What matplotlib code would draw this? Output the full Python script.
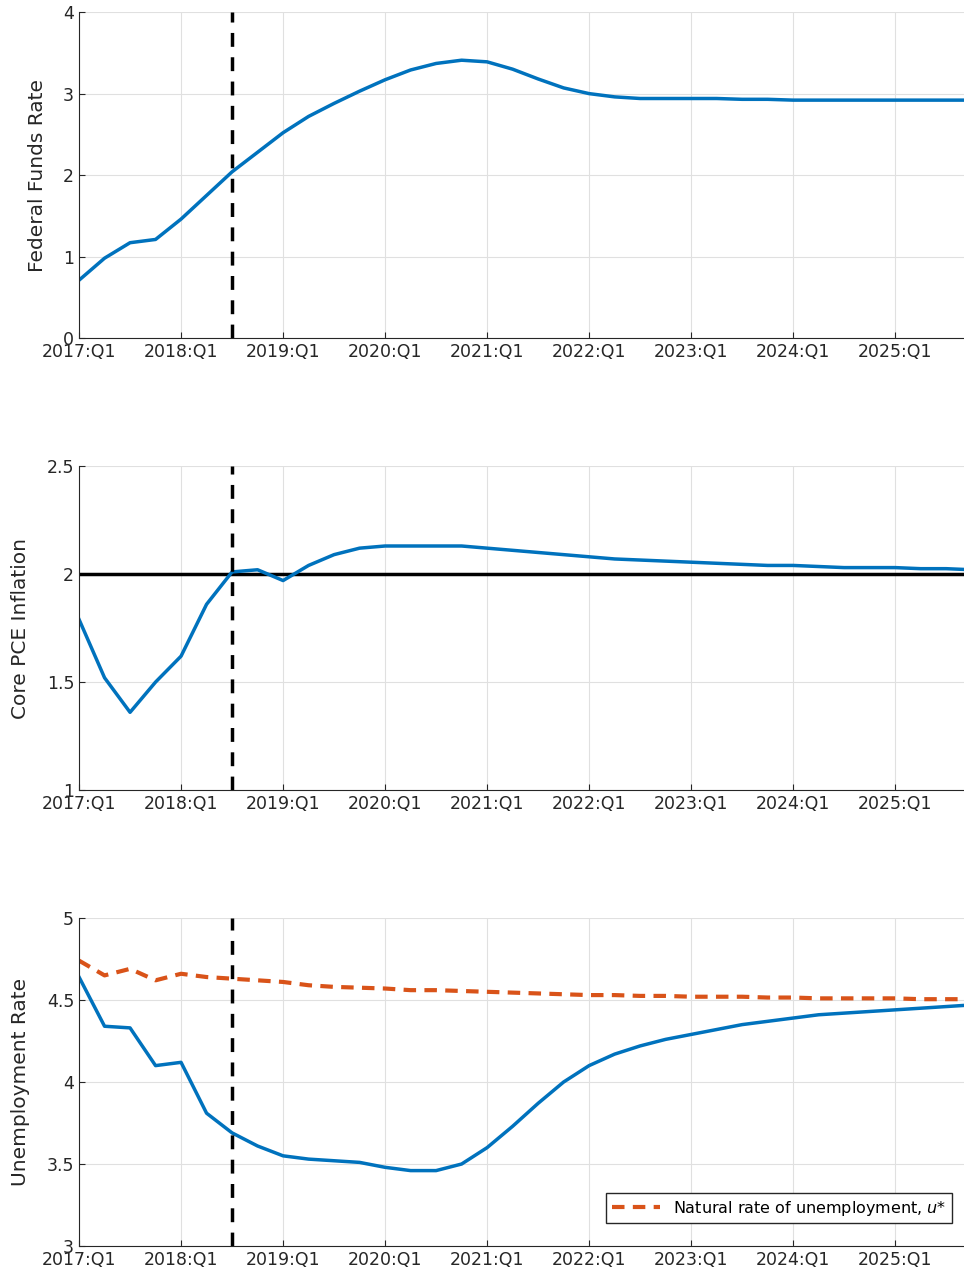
import numpy as np
import matplotlib.pyplot as plt

ffr = [0.71, 0.98, 1.17, 1.21, 1.46, 1.75, 2.04, 2.28, 2.52, 2.72, 2.88, 3.03, 3.17, 3.29,
       3.37, 3.41, 3.39, 3.30, 3.18, 3.07, 3.00, 2.96, 2.94, 2.94, 2.94, 2.94, 2.93, 2.93,
       2.92, 2.92, 2.92, 2.92, 2.92, 2.92, 2.92, 2.92]
infl = [1.79, 1.52, 1.36, 1.50, 1.62, 1.86, 2.01, 2.02, 1.97, 2.04, 2.09, 2.12, 2.13, 2.13,
        2.13, 2.13, 2.12, 2.11, 2.10, 2.09, 2.08, 2.07, 2.065, 2.06, 2.055, 2.05, 2.045, 2.04,
        2.04, 2.035, 2.03, 2.03, 2.03, 2.025, 2.025, 2.02]
unemp = [4.64, 4.34, 4.33, 4.10, 4.12, 3.81, 3.69, 3.61, 3.55, 3.53, 3.52, 3.51, 3.48, 3.46,
         3.46, 3.50, 3.60, 3.73, 3.87, 4.00, 4.10, 4.17, 4.22, 4.26, 4.29, 4.32, 4.35, 4.37,
         4.39, 4.41, 4.42, 4.43, 4.44, 4.45, 4.46, 4.47]
ustar = [4.74, 4.65, 4.69, 4.62, 4.66, 4.64, 4.63, 4.62, 4.61, 4.59, 4.58, 4.575, 4.57, 4.56,
         4.56, 4.555, 4.55, 4.545, 4.54, 4.535, 4.53, 4.53, 4.525, 4.525, 4.52, 4.52, 4.52,
         4.515, 4.515, 4.51, 4.51, 4.51, 4.51, 4.505, 4.505, 4.505]
years = list(range(2017, 2026))
tick_labels = [f"{y}:Q1" for y in years]
q = np.arange(len(ffr))
vline = 6  # 2018:Q3

blue = '#0072BD'
orange = '#D95319'

fig = plt.figure(figsize=(9.64, 12.78), dpi=100)
rects = [[0.082, 0.7355, 0.918, 0.255],
         [0.082, 0.3818, 0.918, 0.2535],
         [0.082, 0.025, 0.918, 0.2567]]
axes = [fig.add_axes(r) for r in rects]

def style(ax, ylim, yticks, ylabel):
    ax.set_xlim(0, 34.7)
    ax.set_ylim(*ylim)
    ax.set_yticks(yticks)
    ax.set_xticks(np.arange(0, 36, 4))
    ax.set_xticklabels(tick_labels)
    ax.grid(True, color='#e0e0e0', linewidth=0.8)
    ax.set_axisbelow(True)
    for s in ['top', 'right']:
        ax.spines[s].set_visible(False)
    for s in ['left', 'bottom']:
        ax.spines[s].set_color('#262626')
    ax.tick_params(labelsize=12.5, colors='#262626', direction='in', length=4)
    ax.set_ylabel(ylabel, fontsize=14.5, color='#262626', labelpad=12)
    ax.axvline(vline, color='black', linestyle=(0, (4, 3)), linewidth=2.5)

ax = axes[0]
ax.plot(q, ffr, color=blue, linewidth=2.5)
style(ax, (0, 4), [0, 1, 2, 3, 4], 'Federal Funds Rate')

ax = axes[1]
ax.axhline(2, color='black', linewidth=2.5)
ax.plot(q, infl, color=blue, linewidth=2.5)
style(ax, (1, 2.5), [1, 1.5, 2, 2.5], 'Core PCE Inflation')
ax.set_yticklabels(['1', '1.5', '2', '2.5'])

ax = axes[2]
ax.plot(q, unemp, color=blue, linewidth=2.5)
ax.plot(q, ustar, color=orange, linewidth=3, linestyle=(0, (3, 2)),
        label='Natural rate of unemployment, $u$*')
style(ax, (3, 5), [3, 3.5, 4, 4.5, 5], 'Unemployment Rate')
ax.set_yticklabels(['3', '3.5', '4', '4.5', '5'])
ax.legend(loc='lower right', fontsize=11.5, fancybox=False, framealpha=1,
          edgecolor='#262626', bbox_to_anchor=(0.995, 0.045), handlelength=3,
          borderpad=0.35)

fig.savefig('out.png')
